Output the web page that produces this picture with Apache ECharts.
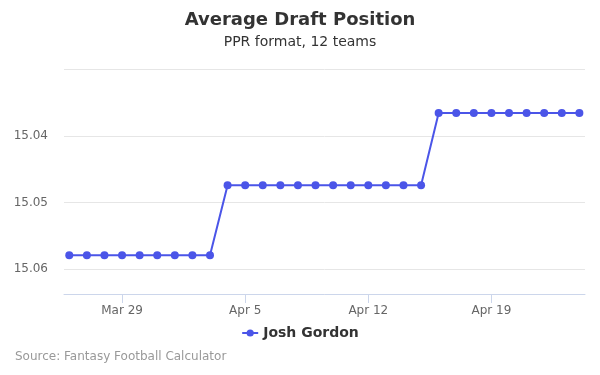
<!DOCTYPE html>
<html>
<head>
<meta charset="utf-8">
<script src="https://cdn.jsdelivr.net/npm/echarts@6/dist/echarts.min.js"></script>
<style>
html,body{margin:0;padding:0;background:#fff;}
#chart{width:600px;height:375px;}
</style>
</head>
<body>
<div id="chart"></div>
<script>
// Data
var dates = [
  '2019-03-26','2019-03-27','2019-03-28','2019-03-29','2019-03-30','2019-03-31','2019-04-01','2019-04-02','2019-04-03',
  '2019-04-04','2019-04-05','2019-04-06','2019-04-07','2019-04-08','2019-04-09','2019-04-10','2019-04-11','2019-04-12','2019-04-13','2019-04-14','2019-04-15',
  '2019-04-16','2019-04-17','2019-04-18','2019-04-19','2019-04-20','2019-04-21','2019-04-22','2019-04-23','2019-04-24'
];
var adp = [
  15.0579,15.0579,15.0579,15.0579,15.0579,15.0579,15.0579,15.0579,15.0579,
  15.0474,15.0474,15.0474,15.0474,15.0474,15.0474,15.0474,15.0474,15.0474,15.0474,15.0474,15.0474,
  15.0366,15.0366,15.0366,15.0366,15.0366,15.0366,15.0366,15.0366,15.0366
];
var xTickDates = ['2019-03-29','2019-04-05','2019-04-12','2019-04-19'];
var seriesName = 'Josh Gordon';
var monthNames = ['Jan','Feb','Mar','Apr','May','Jun','Jul','Aug','Sep','Oct','Nov','Dec'];

function ts(s){ var p = s.split('-'); return new Date(+p[0], +p[1]-1, +p[2]).getTime(); }
var DAY = 86400000;
var xMin = ts(dates[0]) - 0.3*DAY;
var xMax = ts(dates[dates.length-1]) + 0.32*DAY;
var tickVals = xTickDates.map(ts);

var chart = echarts.init(document.getElementById('chart'), null, {renderer:'canvas'});
chart.setOption({
  animation: false,
  textStyle: {fontFamily: 'DejaVu Sans'},
  title: [
    {text: 'Average Draft Position', left: 'center', top: 6,
     textStyle: {fontSize: 18, fontWeight: 'bold', color: '#333', fontFamily: 'DejaVu Sans'}},
    {text: 'PPR format, 12 teams', left: 'center', top: 30,
     textStyle: {fontSize: 14, fontWeight: 'normal', color: '#333', fontFamily: 'DejaVu Sans'}},
    {text: 'Source: Fantasy Football Calculator', left: 10, top: 346,
     textStyle: {fontSize: 12, fontWeight: 'normal', color: '#999', fontFamily: 'DejaVu Sans'}}
  ],
  legend: {
    data: [seriesName], left: 'center', top: 321,
    itemWidth: 16, itemHeight: 9, itemGap: 10,
    textStyle: {fontSize: 14, fontWeight: 'bold', color: '#333', fontFamily: 'DejaVu Sans'}
  },
  grid: {left: 64, right: 15, top: 69, bottom: 81, containLabel: false},
  xAxis: {
    type: 'value', min: xMin, max: xMax,
    axisLine: {show: true, lineStyle: {color: '#ccd6eb', width: 1}},
    axisTick: {show: true, length: 9, lineStyle: {color: '#ccd6eb'}, customValues: tickVals},
    axisLabel: {
      customValues: tickVals, color: '#666', fontSize: 12, margin: 11,
      fontFamily: 'DejaVu Sans',
      formatter: function(v){ var d = new Date(v); return monthNames[d.getMonth()] + ' ' + d.getDate(); }
    },
    splitLine: {show: false}
  },
  yAxis: {
    type: 'value', inverse: true, min: 15.03, max: 15.0637, interval: 0.01,
    axisLine: {show: false}, axisTick: {show: false},
    axisLabel: {
      color: '#666', fontSize: 12, margin: 16, fontFamily: 'DejaVu Sans',
      showMinLabel: false, showMaxLabel: false,
      formatter: function(v){ return v.toFixed(2); }
    },
    splitLine: {show: true, lineStyle: {color: '#e6e6e6', width: 1}}
  },
  series: [{
    name: seriesName, type: 'line',
    data: dates.map(function(d, i){ return [ts(d), adp[i]]; }),
    symbol: 'circle', symbolSize: 8,
    lineStyle: {color: '#4b55e8', width: 2},
    itemStyle: {color: '#4b55e8'}
  }]
});
</script>
</body>
</html>
